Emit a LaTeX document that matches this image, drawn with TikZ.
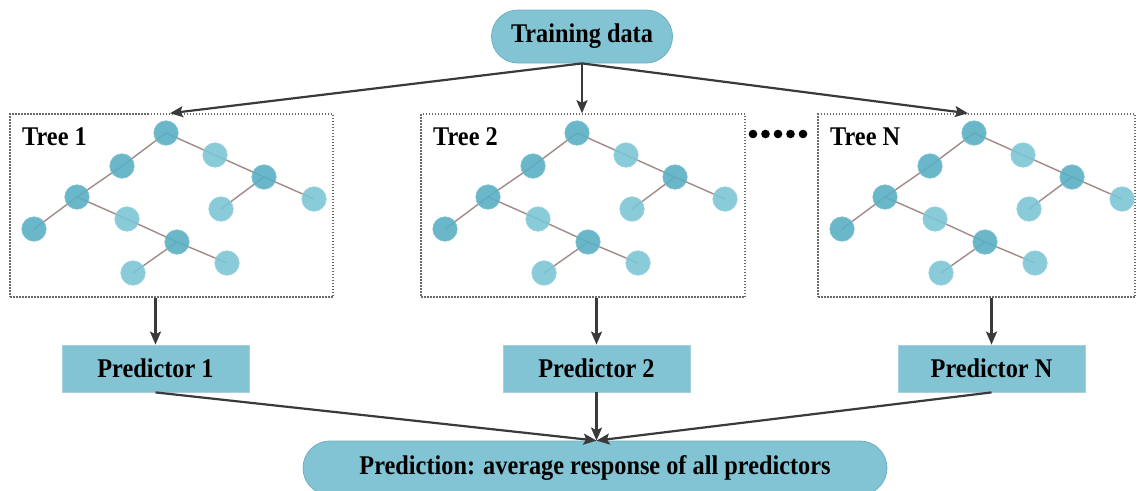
\documentclass[tikz,border=0pt]{standalone}
\usepackage{fontspec}
\setmainfont{Liberation Serif}[FakeStretch=0.9]
\usetikzlibrary{arrows.meta,shapes.misc,backgrounds}

\definecolor{nodedark}{HTML}{5AAFC4}
\definecolor{nodelight}{HTML}{7CC5D5}
\definecolor{edgecol}{HTML}{A08A86}
\definecolor{boxfill}{HTML}{82C4D4}
\definecolor{boxline}{HTML}{6DB0C2}
\definecolor{arrowcol}{HTML}{3A3A3A}
\definecolor{dotcol}{HTML}{6A6A6A}

\tikzset{
  dk/.style={circle, minimum size=24.5pt, inner sep=0pt, fill=nodedark,
    fill opacity=0.9, draw=nodedark!75!white, line width=0.6pt},
  lt/.style={circle, minimum size=24.5pt, inner sep=0pt, fill=nodelight,
    fill opacity=0.9, draw=nodelight!75!white, line width=0.6pt},
  branch/.style={draw=edgecol, line width=1.4pt},
  treebox/.style={draw=dotcol, line width=1.5pt, dash pattern=on 1.5pt off 1.5pt,
    minimum height=183pt, inner sep=0pt},
  flow/.style={draw=arrowcol, line width=2.2pt,
    -{Stealth[length=13pt,width=11pt,inset=2.5pt]}},
  pill/.style={rounded rectangle, fill=boxfill, draw=boxline, line width=0.8pt,
    inner sep=0pt},
  predbox/.style={rectangle, fill=boxfill, draw=boxline!60!white, line width=0.8pt,
    minimum width=187pt, minimum height=47pt, inner sep=0pt},
  lbl/.style={font=\fontsize{27}{30}\selectfont\bfseries, text=black},
  ellipsisdot/.style={circle, fill=black, minimum size=8.6pt, inner sep=0pt},
  % one decision tree, drawn relative to the first panel
  pics/dtree/.style={code={
    \node[lbl, anchor=base west, inner sep=0pt] (-label) at (22,145) {Tree #1};
    \node[dk] (-a) at (166,133) {};
    \node[dk] (-b) at (122,166) {};
    \node[lt] (-c) at (215,155) {};
    \node[dk] (-d) at (77,197) {};
    \node[dk] (-e) at (264,177) {};
    \node[lt] (-f) at (314,199) {};
    \node[lt] (-g) at (221,209) {};
    \node[dk] (-h) at (34,229) {};
    \node[lt] (-i) at (127,219) {};
    \node[dk] (-j) at (177,242) {};
    \node[lt] (-k) at (227,263) {};
    \node[lt] (-l) at (133,273) {};
    \begin{pgfonlayer}{background}
      \draw[branch] (-h.center) -- (-d.center) -- (-b.center) -- (-a.center)
                    -- (-c.center) -- (-e.center) -- (-f.center);
      \draw[branch] (-e.center) -- (-g.center);
      \draw[branch] (-d.center) -- (-i.center) -- (-j.center) -- (-k.center);
      \draw[branch] (-j.center) -- (-l.center);
    \end{pgfonlayer}
  }},
}

\begin{document}
\begin{tikzpicture}[x=1pt, y=-1pt]
\useasboundingbox (0,0) rectangle (1137,490);
\clip (0,0) rectangle (1137,490);

% source
\node[pill, lbl, minimum width=181pt, minimum height=53pt] (train) at (582,36.5) {Training data};

% tree panels
\node[treebox, minimum width=323pt] (box1) at (171.5,205.5) {};
\node[treebox, minimum width=324pt] (box2) at (583,205.5) {};
\node[treebox, minimum width=317pt] (boxN) at (976.5,205.5) {};

\pic (T1) at (0,0) {dtree=1};
\pic (T2) at (411,0) {dtree=2};
\pic (TN) at (808,0) {dtree=N};

% ellipsis between the panels
\node[ellipsisdot] (dot1) at (753,134) {};
\node[ellipsisdot] (dot2) at (765.5,134) {};
\node[ellipsisdot] (dot3) at (778,134) {};
\node[ellipsisdot] (dot4) at (790.5,134) {};
\node[ellipsisdot] (dot5) at (803,134) {};

% predictors
\node[predbox, lbl] (pred1) at (155.5,368.5) {Predictor 1};
\node[predbox, lbl] (pred2) at (596.5,368.5) {Predictor 2};
\node[predbox, lbl] (predN) at (991.5,368.5) {Predictor N};

% aggregate
\node[pill, lbl, minimum width=584pt, minimum height=54pt] (final) at (595,468) {Prediction: average response of all predictors};
\coordinate (meet) at (final.north -| pred2.south);

% connectors
\draw[flow] (train.south) -- ([xshift=-1.5pt]box1.north);
\draw[flow] (train.south) -- ([xshift=-1pt]box2.north);
\draw[flow] (train.south) -- ([xshift=-8.5pt]boxN.north);

\draw[flow] (pred1.north |- box1.south) -- (pred1.north);
\draw[flow] (pred2.north |- box2.south) -- (pred2.north);
\draw[flow] (predN.north |- boxN.south) -- (predN.north);

\draw[flow] (pred1.south) -- (meet);
\draw[flow] (pred2.south) -- (meet);
\draw[flow] (predN.south) -- (meet);
\end{tikzpicture}
\end{document}
